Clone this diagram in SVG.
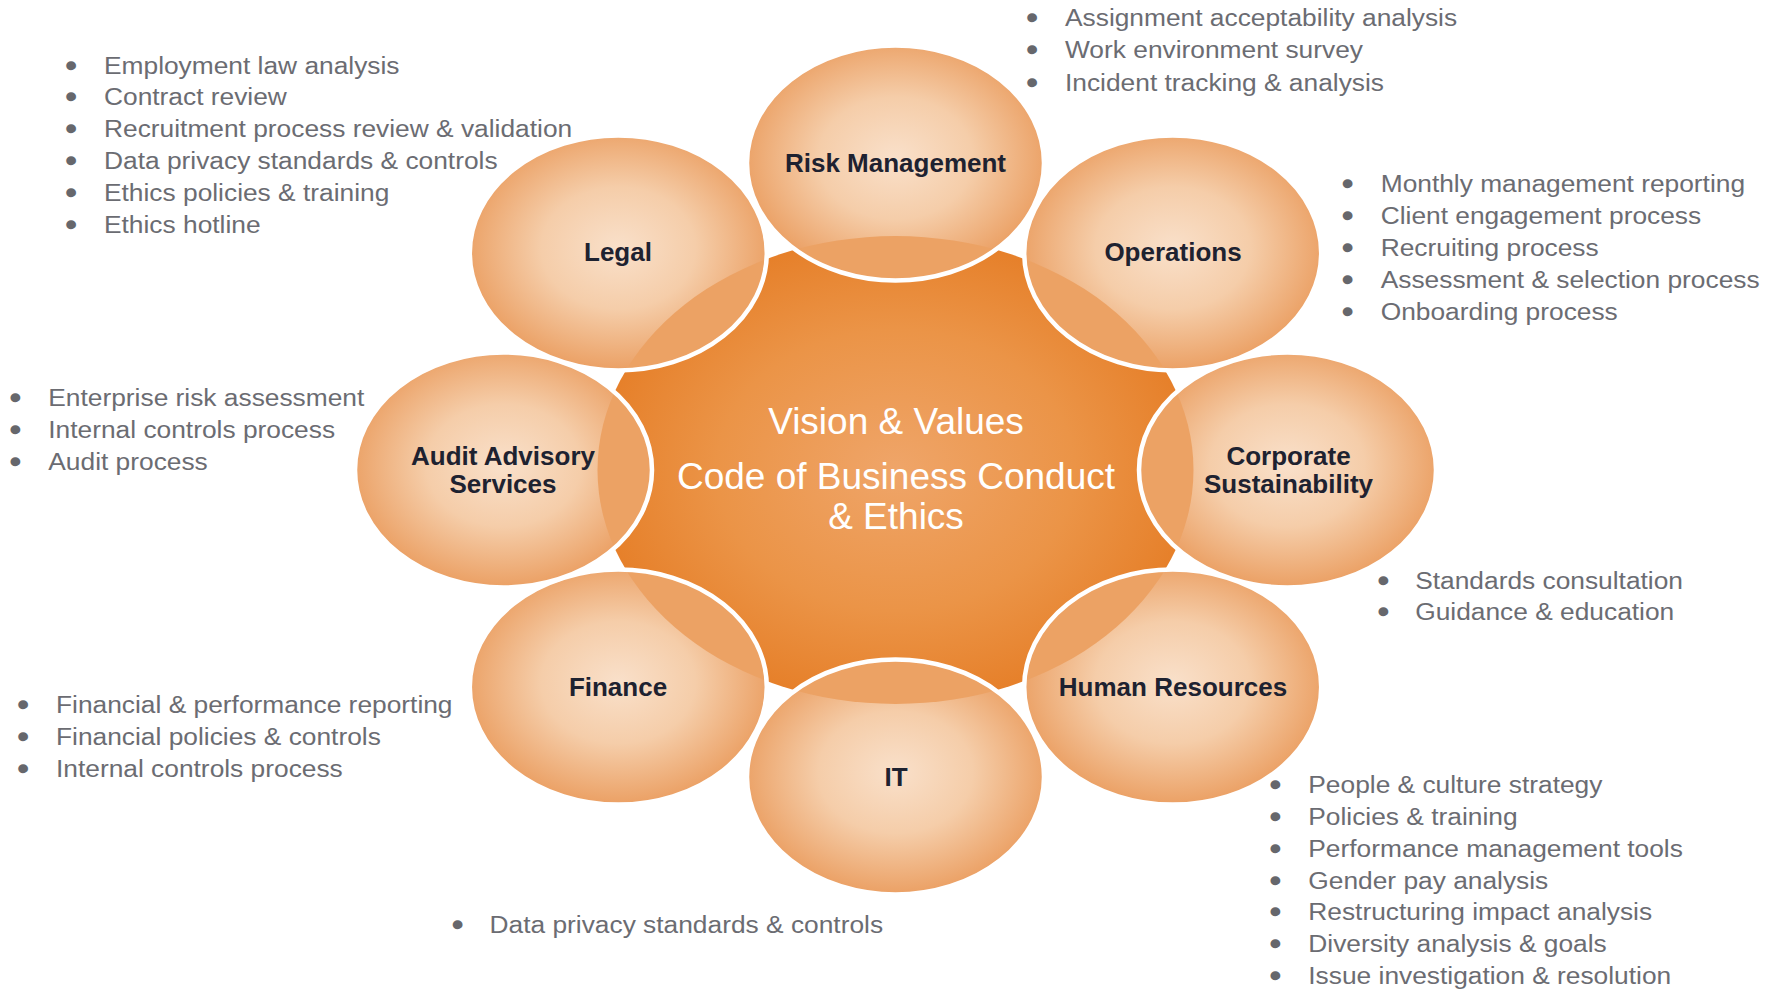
<svg xmlns="http://www.w3.org/2000/svg" width="1781" height="989" viewBox="0 0 1781 989">
  <defs>
    <radialGradient id="hubFill" cx="50%" cy="50%" r="50%">
      <stop offset="0" stop-color="#EFA569"/>
      <stop offset="0.6" stop-color="#EB9447"/>
      <stop offset="1" stop-color="#E6802A"/>
    </radialGradient>
    <radialGradient id="petalFill" cx="50%" cy="48%" r="52%">
      <stop offset="0" stop-color="#F9E0CA"/>
      <stop offset="0.5" stop-color="#F5CDA9"/>
      <stop offset="1" stop-color="#EBA064"/>
    </radialGradient>
    <clipPath id="clip-risk"><ellipse cx="895.5" cy="163" rx="148.5" ry="117.5"/></clipPath>
    <clipPath id="clip-ops"><ellipse cx="1172.7" cy="252.9" rx="148.5" ry="117.5"/></clipPath>
    <clipPath id="clip-corp"><ellipse cx="1287.5" cy="470" rx="148.5" ry="117.5"/></clipPath>
    <clipPath id="clip-hr"><ellipse cx="1172.7" cy="687.1" rx="148.5" ry="117.5"/></clipPath>
    <clipPath id="clip-it"><ellipse cx="895.5" cy="777" rx="148.5" ry="117.5"/></clipPath>
    <clipPath id="clip-fin"><ellipse cx="618.3" cy="687.1" rx="148.5" ry="117.5"/></clipPath>
    <clipPath id="clip-audit"><ellipse cx="503.5" cy="470" rx="148.5" ry="117.5"/></clipPath>
    <clipPath id="clip-legal"><ellipse cx="618.3" cy="252.9" rx="148.5" ry="117.5"/></clipPath>
  </defs>
  <style>
    .hub { fill: url(#hubFill); }
    .petal { fill: url(#petalFill); stroke: none; }
    .overlap { fill: #ECA264; }
    .rim { fill: none; stroke: #FFFFFF; stroke-width: 4.5; }
    .label { font-family: "Liberation Sans", Arial, sans-serif; font-weight: bold; font-size: 26px; fill: #1E2230; text-anchor: middle; }
    .hub-text { font-family: "Liberation Sans", Arial, sans-serif; font-size: 37px; fill: #FFFFFF; text-anchor: middle; }
    .note { font-family: "Liberation Sans", Arial, sans-serif; font-size: 24.5px; fill: #6B6C72; }
    /* bullet dots: same size as the item text, thickened with a stroke */
    .b { fill: #66676C; stroke: #66676C; stroke-width: 2.4px; }
  </style>

  <rect width="1781" height="989" fill="#FFFFFF"/>

  <!-- central hub -->
  <g id="hub">
    <ellipse class="hub" cx="895.5" cy="470" rx="298" ry="234"/>
    <text class="hub-text" x="896" y="434">Vision &amp; Values</text>
    <text class="hub-text" x="896" y="489">Code of Business Conduct</text>
    <text class="hub-text" x="896" y="529">&amp; Ethics</text>
  </g>

  <!-- satellites: gradient fill, hub overlap tint, white rim, label -->
  <g id="risk-management">
    <ellipse class="petal" cx="895.5" cy="163" rx="148.5" ry="117.5"/>
    <ellipse class="overlap" cx="895.5" cy="470" rx="298" ry="234" clip-path="url(#clip-risk)"/>
    <ellipse class="rim" cx="895.5" cy="163" rx="148.5" ry="117.5"/>
    <text class="label" x="895.5" y="172">Risk Management</text>
  </g>
  <g id="operations">
    <ellipse class="petal" cx="1172.7" cy="252.9" rx="148.5" ry="117.5"/>
    <ellipse class="overlap" cx="895.5" cy="470" rx="298" ry="234" clip-path="url(#clip-ops)"/>
    <ellipse class="rim" cx="1172.7" cy="252.9" rx="148.5" ry="117.5"/>
    <text class="label" x="1173" y="261">Operations</text>
  </g>
  <g id="corporate-sustainability">
    <ellipse class="petal" cx="1287.5" cy="470" rx="148.5" ry="117.5"/>
    <ellipse class="overlap" cx="895.5" cy="470" rx="298" ry="234" clip-path="url(#clip-corp)"/>
    <ellipse class="rim" cx="1287.5" cy="470" rx="148.5" ry="117.5"/>
    <text class="label" x="1288.5" y="465">Corporate</text>
    <text class="label" x="1288.5" y="493">Sustainability</text>
  </g>
  <g id="human-resources">
    <ellipse class="petal" cx="1172.7" cy="687.1" rx="148.5" ry="117.5"/>
    <ellipse class="overlap" cx="895.5" cy="470" rx="298" ry="234" clip-path="url(#clip-hr)"/>
    <ellipse class="rim" cx="1172.7" cy="687.1" rx="148.5" ry="117.5"/>
    <text class="label" x="1173" y="696">Human Resources</text>
  </g>
  <g id="it">
    <ellipse class="petal" cx="895.5" cy="777" rx="148.5" ry="117.5"/>
    <ellipse class="overlap" cx="895.5" cy="470" rx="298" ry="234" clip-path="url(#clip-it)"/>
    <ellipse class="rim" cx="895.5" cy="777" rx="148.5" ry="117.5"/>
    <text class="label" x="896" y="786">IT</text>
  </g>
  <g id="finance">
    <ellipse class="petal" cx="618.3" cy="687.1" rx="148.5" ry="117.5"/>
    <ellipse class="overlap" cx="895.5" cy="470" rx="298" ry="234" clip-path="url(#clip-fin)"/>
    <ellipse class="rim" cx="618.3" cy="687.1" rx="148.5" ry="117.5"/>
    <text class="label" x="618" y="696">Finance</text>
  </g>
  <g id="audit-advisory-services">
    <ellipse class="petal" cx="503.5" cy="470" rx="148.5" ry="117.5"/>
    <ellipse class="overlap" cx="895.5" cy="470" rx="298" ry="234" clip-path="url(#clip-audit)"/>
    <ellipse class="rim" cx="503.5" cy="470" rx="148.5" ry="117.5"/>
    <text class="label" x="503" y="465">Audit Advisory</text>
    <text class="label" x="503" y="493">Services</text>
  </g>
  <g id="legal">
    <ellipse class="petal" cx="618.3" cy="252.9" rx="148.5" ry="117.5"/>
    <ellipse class="overlap" cx="895.5" cy="470" rx="298" ry="234" clip-path="url(#clip-legal)"/>
    <ellipse class="rim" cx="618.3" cy="252.9" rx="148.5" ry="117.5"/>
    <text class="label" x="618" y="261">Legal</text>
  </g>

  <!-- bullet lists beside each satellite -->
  <g id="legal-notes" class="note" transform="translate(104,73.5) scale(1.075,1)">
    <text y="0"><tspan class="b" x="-35">•</tspan><tspan x="0">Employment law analysis</tspan></text>
    <text y="31.9"><tspan class="b" x="-35">•</tspan><tspan x="0">Contract review</tspan></text>
    <text y="63.8"><tspan class="b" x="-35">•</tspan><tspan x="0">Recruitment process review &amp; validation</tspan></text>
    <text y="95.7"><tspan class="b" x="-35">•</tspan><tspan x="0">Data privacy standards &amp; controls</tspan></text>
    <text y="127.6"><tspan class="b" x="-35">•</tspan><tspan x="0">Ethics policies &amp; training</tspan></text>
    <text y="159.5"><tspan class="b" x="-35">•</tspan><tspan x="0">Ethics hotline</tspan></text>
  </g>
  <g id="risk-notes" class="note" transform="translate(1065,26.3) scale(1.075,1)">
    <text y="0"><tspan class="b" x="-35">•</tspan><tspan x="0">Assignment acceptability analysis</tspan></text>
    <text y="32.2"><tspan class="b" x="-35">•</tspan><tspan x="0">Work environment survey</tspan></text>
    <text y="64.4"><tspan class="b" x="-35">•</tspan><tspan x="0">Incident tracking &amp; analysis</tspan></text>
  </g>
  <g id="operations-notes" class="note" transform="translate(1380.7,192) scale(1.075,1)">
    <text y="0"><tspan class="b" x="-35">•</tspan><tspan x="0">Monthly management reporting</tspan></text>
    <text y="31.9"><tspan class="b" x="-35">•</tspan><tspan x="0">Client engagement process</tspan></text>
    <text y="63.8"><tspan class="b" x="-35">•</tspan><tspan x="0">Recruiting process</tspan></text>
    <text y="95.7"><tspan class="b" x="-35">•</tspan><tspan x="0">Assessment &amp; selection process</tspan></text>
    <text y="127.6"><tspan class="b" x="-35">•</tspan><tspan x="0">Onboarding process</tspan></text>
  </g>
  <g id="audit-notes" class="note" transform="translate(48.3,406) scale(1.075,1)">
    <text y="0"><tspan class="b" x="-35">•</tspan><tspan x="0">Enterprise risk assessment</tspan></text>
    <text y="31.9"><tspan class="b" x="-35">•</tspan><tspan x="0">Internal controls process</tspan></text>
    <text y="63.8"><tspan class="b" x="-35">•</tspan><tspan x="0">Audit process</tspan></text>
  </g>
  <g id="corporate-notes" class="note" transform="translate(1415.2,588.5) scale(1.075,1)">
    <text y="0"><tspan class="b" x="-34">•</tspan><tspan x="0">Standards consultation</tspan></text>
    <text y="31.9"><tspan class="b" x="-34">•</tspan><tspan x="0">Guidance &amp; education</tspan></text>
  </g>
  <g id="finance-notes" class="note" transform="translate(56,713.3) scale(1.075,1)">
    <text y="0"><tspan class="b" x="-35">•</tspan><tspan x="0">Financial &amp; performance reporting</tspan></text>
    <text y="31.9"><tspan class="b" x="-35">•</tspan><tspan x="0">Financial policies &amp; controls</tspan></text>
    <text y="63.8"><tspan class="b" x="-35">•</tspan><tspan x="0">Internal controls process</tspan></text>
  </g>
  <g id="it-notes" class="note" transform="translate(489.5,932.5) scale(1.075,1)">
    <text y="0"><tspan class="b" x="-34">•</tspan><tspan x="0">Data privacy standards &amp; controls</tspan></text>
  </g>
  <g id="hr-notes" class="note" transform="translate(1308.3,793.3) scale(1.075,1)">
    <text y="0"><tspan class="b" x="-35">•</tspan><tspan x="0">People &amp; culture strategy</tspan></text>
    <text y="31.8"><tspan class="b" x="-35">•</tspan><tspan x="0">Policies &amp; training</tspan></text>
    <text y="63.6"><tspan class="b" x="-35">•</tspan><tspan x="0">Performance management tools</tspan></text>
    <text y="95.4"><tspan class="b" x="-35">•</tspan><tspan x="0">Gender pay analysis</tspan></text>
    <text y="127.2"><tspan class="b" x="-35">•</tspan><tspan x="0">Restructuring impact analysis</tspan></text>
    <text y="159"><tspan class="b" x="-35">•</tspan><tspan x="0">Diversity analysis &amp; goals</tspan></text>
    <text y="190.8"><tspan class="b" x="-35">•</tspan><tspan x="0">Issue investigation &amp; resolution</tspan></text>
  </g>
</svg>
